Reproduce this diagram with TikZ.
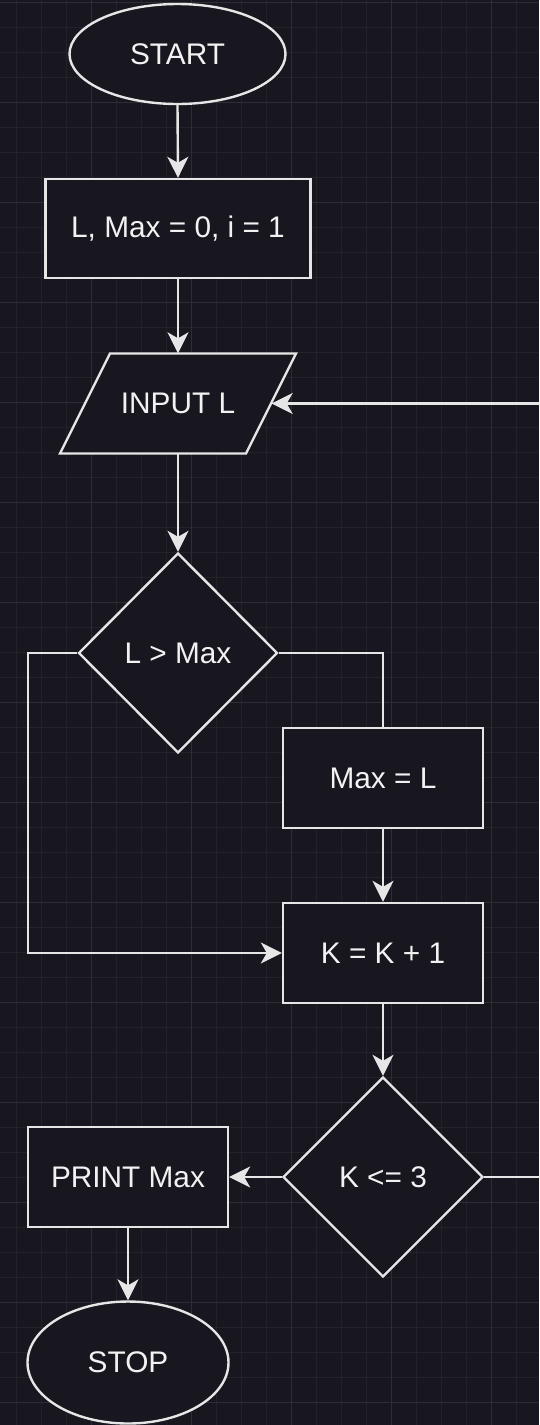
\documentclass[tikz,border=0pt]{standalone}
\usepackage{fontspec}
\setmainfont{Liberation Sans}
\usetikzlibrary{shapes.geometric,arrows.meta}
\definecolor{bgc}{HTML}{18161E}
\definecolor{gridminor}{HTML}{23212A}
\definecolor{gridmajor}{HTML}{2E2C35}
\definecolor{strokec}{HTML}{E6E6E6}
\definecolor{textc}{HTML}{F2F2F2}
\begin{document}
\begin{tikzpicture}[x=1pt,y=-1pt,
  every node/.style={font=\fontsize{29.8}{36}\selectfont, text=textc},
  shapebase/.style={draw=strokec, fill=bgc, line width=2.4pt, inner sep=0pt},
  procbox/.style={shapebase, rectangle, minimum width=200pt, minimum height=100pt},
  terminal/.style={shapebase, ellipse},
  decision/.style={shapebase, diamond, minimum width=200pt, minimum height=200pt},
  conn/.style={draw=strokec, line width=2.4pt},
  arr/.style={conn, -{Stealth[length=21pt,width=21pt,inset=6pt]}},
  minorline/.style={draw=gridminor, line width=1pt},
  majorline/.style={draw=gridmajor, line width=1pt}
]
\useasboundingbox (0,0) rectangle (539,1425);
\clip (0,0) rectangle (539,1425);
\fill[bgc] (0,0) rectangle (539,1425);
% grid
\foreach \gx in {16,41,...,539} \draw[minorline] (\gx,0) -- (\gx,1425);
\foreach \gy in {2,27,...,1425} \draw[minorline] (0,\gy) -- (539,\gy);
\foreach \gx in {91,191,...,491} \draw[majorline] (\gx,0) -- (\gx,1425);
\foreach \gy in {2,102,...,1402} \draw[majorline] (0,\gy) -- (539,\gy);

% nodes
\node[terminal, minimum width=216pt, minimum height=100pt] (start) at (177.5,54) {START};
\node[procbox, minimum width=265pt, minimum height=99pt] (init) at (178,228.5) {L, Max = 0, i = 1};
\coordinate (inpc) at (178,403.5);
\draw[shapebase] ([shift={(-68,-50)}]inpc) -- ([shift={(118,-50)}]inpc) -- ([shift={(68,50)}]inpc) -- ([shift={(-118,50)}]inpc) -- cycle;
\node[inner sep=0pt, minimum width=187pt, minimum height=100pt] (input) at (inpc) {INPUT L};
\node[decision, minimum width=199pt] (dec1) at (178,653) {L > Max};
\node[procbox] (maxl) at (383,778) {Max = L};
\node[procbox] (kinc) at (383,953) {K = K + 1};
\node[decision] (dec2) at (383,1177) {K <= 3};
\node[procbox] (print) at (128,1177) {PRINT Max};
\node[terminal, minimum width=201pt, minimum height=122pt] (stop) at (128,1362.5) {STOP};

% connectors
\draw[arr] (start.south) -- (init.north);
\draw[arr] (init.south) -- (input.north);
\draw[arr] (input.south) -- (dec1.north);
\coordinate (lft) at (28,653);
\draw[arr] (dec1.west) -- (lft) |- (kinc.west);
\draw[conn] (dec1.east) -| (maxl.north);
\draw[arr] (maxl.south) -- (kinc.north);
\draw[arr] (kinc.south) -- (dec2.north);
\draw[arr] (dec2.west) -- (print.east);
\draw[arr] (print.south) -- (stop.north);
\coordinate (rgt) at (600,1177);
\draw[arr] (dec2.east) -- (rgt) |- (input.east);
\end{tikzpicture}
\end{document}
